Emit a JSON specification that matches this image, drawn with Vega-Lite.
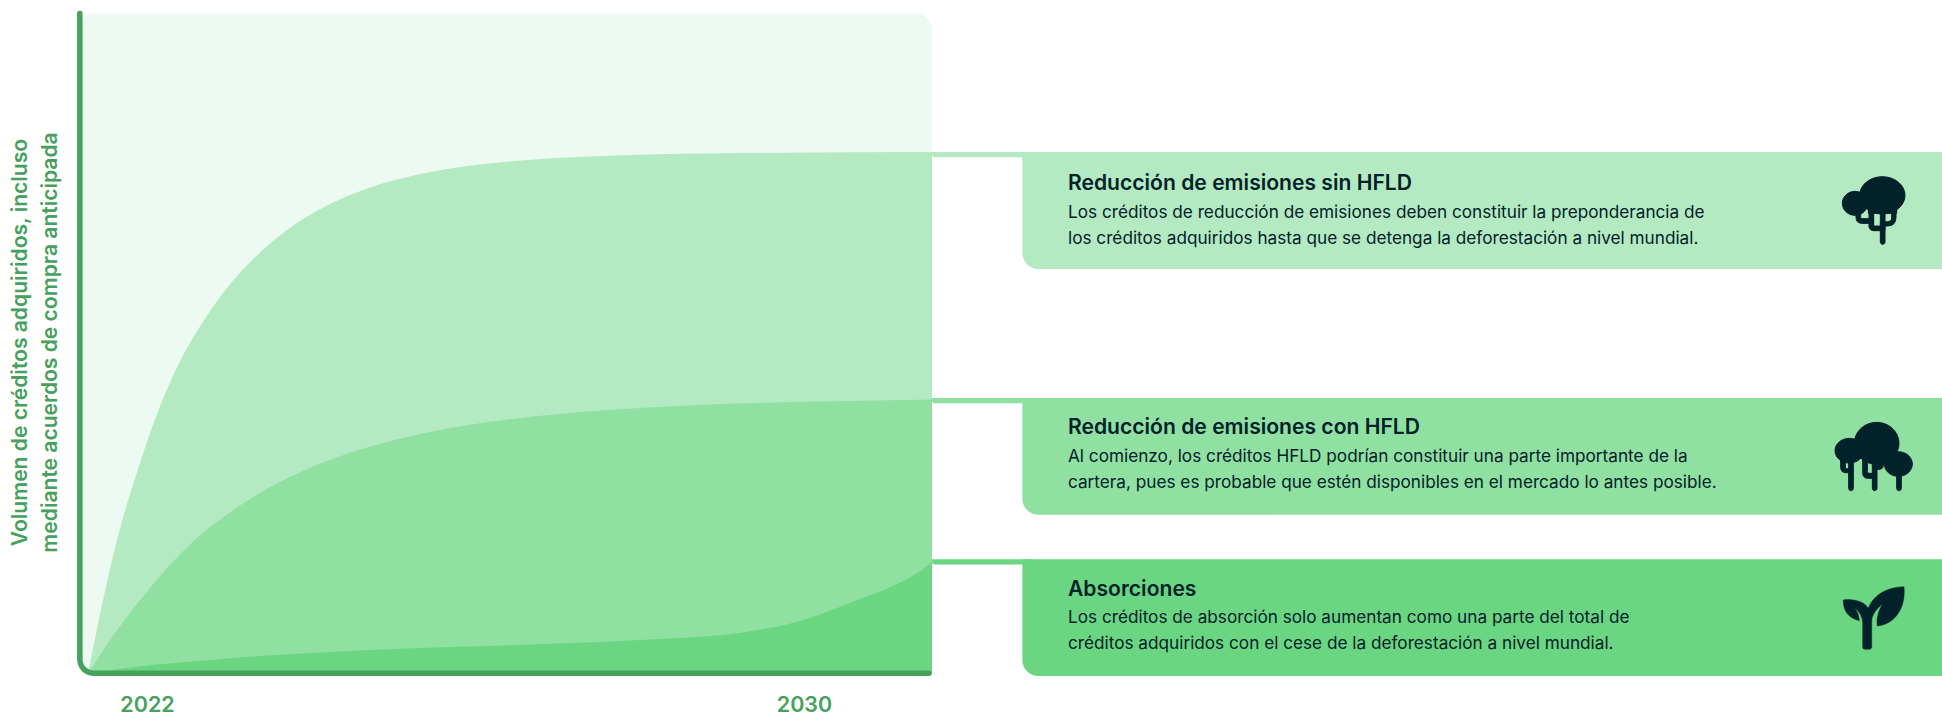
{
"$schema":"https://vega.github.io/schema/vega-lite/v6.json",
"width":1863,"height":660,
"autosize":{"type":"none"},
"padding":{"left":79,"top":13.5,"right":0,"bottom":40.5},
"background":"#ffffff",
"config":{"view":{"stroke":null},"font":"Inter"},
"data":{"values":[
{"kind":"fondo","year":2021.915,"level":100,"year2":2032.277,"level2":0},
{"kind":"banda","serie":"a","year":2032.277,"level":79.02,"year2":2033.5,"level2":78.21},
{"kind":"banda","serie":"b","year":2032.277,"level":41.74,"year2":2033.5,"level2":40.94},
{"kind":"banda","serie":"c","year":2032.277,"level":17.3,"year2":2033.5,"level2":16.5},
{"kind":"tarjeta","serie":"a","year":2033.377,"level":79.02,"year2":2044.576,"level2":61.29},
{"kind":"tarjeta","serie":"b","year":2033.377,"level":41.74,"year2":2044.576,"level2":24.06},
{"kind":"tarjeta","serie":"c","year":2033.377,"level":17.3,"year2":2044.576,"level2":-0.38},
{"kind":"a","year":2022,"level":0},{"kind":"a","year":2022.122,"level":7.5},{"kind":"a","year":2022.244,"level":14.6},{"kind":"a","year":2022.426,"level":23.6},{"kind":"a","year":2022.609,"level":31.0},{"kind":"a","year":2022.852,"level":39.7},{"kind":"a","year":2023.096,"level":46.7},{"kind":"a","year":2023.4,"level":53.3},{"kind":"a","year":2023.705,"level":58.6},{"kind":"a","year":2024.07,"level":63.5},{"kind":"a","year":2024.435,"level":67.3},{"kind":"a","year":2024.922,"level":70.97},{"kind":"a","year":2025.41,"level":73.51},{"kind":"a","year":2026.018,"level":75.59},{"kind":"a","year":2026.627,"level":76.88},{"kind":"a","year":2027.358,"level":77.81},{"kind":"a","year":2028.332,"level":78.44},{"kind":"a","year":2029.55,"level":78.79},{"kind":"a","year":2032.277,"level":79.02},
{"kind":"b","year":2022,"level":0},{"kind":"b","year":2022.304,"level":5.7},{"kind":"b","year":2022.731,"level":12.6},{"kind":"b","year":2023.218,"level":19.28},{"kind":"b","year":2023.827,"level":25.25},{"kind":"b","year":2024.435,"level":29.61},{"kind":"b","year":2025.166,"level":33.33},{"kind":"b","year":2026.018,"level":36.22},{"kind":"b","year":2026.871,"level":38.09},{"kind":"b","year":2027.845,"level":39.43},{"kind":"b","year":2028.819,"level":40.3},{"kind":"b","year":2030.037,"level":40.95},{"kind":"b","year":2031.255,"level":41.3},{"kind":"b","year":2032.277,"level":41.52},
{"kind":"c","year":2022,"level":0},{"kind":"c","year":2022.268,"level":0.5},{"kind":"c","year":2022.718,"level":1.2},{"kind":"c","year":2023.522,"level":2.1},{"kind":"c","year":2024.338,"level":2.85},{"kind":"c","year":2025.312,"level":3.5},{"kind":"c","year":2026.408,"level":4.0},{"kind":"c","year":2027.626,"level":4.5},{"kind":"c","year":2028.843,"level":5.15},{"kind":"c","year":2029.976,"level":6.2},{"kind":"c","year":2030.731,"level":8.2},{"kind":"c","year":2031.401,"level":11.3},{"kind":"c","year":2031.803,"level":13.3},{"kind":"c","year":2032.009,"level":14.6},{"kind":"c","year":2032.168,"level":15.8},{"kind":"c","year":2032.277,"level":17.0},
{"kind":"eje","i":0,"year":2021.9,"level":100},{"kind":"eje","i":1,"year":2021.9,"level":2.15},{"kind":"eje","i":2,"year":2021.906,"level":1.6},{"kind":"eje","i":3,"year":2021.923,"level":1.09},{"kind":"eje","i":4,"year":2021.95,"level":0.65},{"kind":"eje","i":5,"year":2021.985,"level":0.32},{"kind":"eje","i":6,"year":2022.027,"level":0.1},{"kind":"eje","i":7,"year":2022.071,"level":0.03},{"kind":"eje","i":8,"year":2032.241,"level":0.03},
{"kind":"titulo","year":2033.933,"level":74.12,"text":"Reducción de emisiones sin HFLD"},
{"kind":"texto","year":2033.933,"level":69.72,"text":"Los créditos de reducción de emisiones deben constituir la preponderancia de"},
{"kind":"texto","year":2033.933,"level":65.78,"text":"los créditos adquiridos hasta que se detenga la deforestación a nivel mundial."},
{"kind":"titulo","year":2033.933,"level":37.2,"text":"Reducción de emisiones con HFLD"},
{"kind":"texto","year":2033.933,"level":32.8,"text":"Al comienzo, los créditos HFLD podrían constituir una parte importante de la"},
{"kind":"texto","year":2033.933,"level":28.87,"text":"cartera, pues es probable que estén disponibles en el mercado lo antes posible."},
{"kind":"titulo","year":2033.933,"level":12.6,"text":"Absorciones"},
{"kind":"texto","year":2033.933,"level":8.4,"text":"Los créditos de absorción solo aumentan como una parte del total de"},
{"kind":"texto","year":2033.933,"level":4.45,"text":"créditos adquiridos con el cese de la deforestación a nivel mundial."},
{"kind":"icono1","year":2042.847,"level":77.8},
{"kind":"icono2","year":2042.847,"level":39.92},
{"kind":"icono3","year":2042.847,"level":14.17}
]},
"encoding":{
"x":{"field":"year","type":"quantitative","scale":{"domain":[2021.89,2044.576],"nice":false,"zero":false},
"axis":{"values":[2022,2030],"format":"d","title":null,"domain":false,"ticks":false,"grid":false,"labelOffset":59,"labelPadding":21,"labelFontSize":21.5,"labelFontWeight":600,"labelColor":"#45A15C","labelFont":"Inter","labelBound":false,"labelFlush":false,"labelOverlap":false}},
"y":{"field":"level","type":"quantitative","scale":{"domain":[0,100],"nice":false,"zero":false},
"axis":{"title":["Volumen de créditos adquiridos, incluso","mediante acuerdos de compra anticipada"],"domain":false,"ticks":false,"labels":false,"grid":false,"titleFont":"Inter","titleFontSize":21.05,"titleFontWeight":600,"titleColor":"#45A15C","titleLineHeight":30,"titleX":-59,"titleY":328.5,"titleAngle":-90,"titleAlign":"center","titleBaseline":"middle"}}
},
"layer":[
{"transform":[{"filter":"datum.kind==='fondo'"}],"mark":{"type":"rect","color":"#ECFAF1","cornerRadiusTopRight":16,"cornerRadiusTopLeft":12,"cornerRadiusBottomRight":4},"encoding":{"x2":{"field":"year2"},"y2":{"field":"level2"}}},
{"transform":[{"filter":"datum.kind==='a'"}],"mark":{"type":"area","color":"#B3EAC1","interpolate":"monotone","opacity":1},"encoding":{"y2":{"datum":0}}},
{"transform":[{"filter":"datum.kind==='b'"}],"mark":{"type":"area","color":"#90E0A2","interpolate":"monotone","opacity":1},"encoding":{"y2":{"datum":0}}},
{"transform":[{"filter":"datum.kind==='c'"}],"mark":{"type":"area","color":"#6BD682","interpolate":"monotone","opacity":1},"encoding":{"y2":{"datum":0}}},
{"transform":[{"filter":"(datum.kind==='banda'||datum.kind==='tarjeta')&&datum.serie==='a'"}],"mark":{"type":"rect","color":"#B3EAC1","cornerRadiusBottomLeft":16},"encoding":{"x2":{"field":"year2"},"y2":{"field":"level2"}}},
{"transform":[{"filter":"(datum.kind==='banda'||datum.kind==='tarjeta')&&datum.serie==='b'"}],"mark":{"type":"rect","color":"#90E0A2","cornerRadiusBottomLeft":16},"encoding":{"x2":{"field":"year2"},"y2":{"field":"level2"}}},
{"transform":[{"filter":"(datum.kind==='banda'||datum.kind==='tarjeta')&&datum.serie==='c'"}],"mark":{"type":"rect","color":"#6BD682","cornerRadiusBottomLeft":16},"encoding":{"x2":{"field":"year2"},"y2":{"field":"level2"}}},
{"transform":[{"filter":"datum.kind==='eje'"}],"mark":{"type":"line","color":"#45A15C","strokeWidth":5.5,"strokeCap":"round","strokeJoin":"round"},"encoding":{"order":{"field":"i","type":"quantitative"}}},
{"transform":[{"filter":"datum.kind==='titulo'"}],"mark":{"type":"text","align":"left","baseline":"middle","font":"Inter","fontSize":21.1,"fontWeight":600,"color":"#02222B"},"encoding":{"text":{"field":"text"}}},
{"transform":[{"filter":"datum.kind==='texto'"}],"mark":{"type":"text","align":"left","baseline":"middle","font":"Inter","fontSize":17.2,"fontWeight":400,"color":"#02222B"},"encoding":{"text":{"field":"text"}}},
{"transform":[{"filter":"datum.kind==='icono1'"}],"mark":{"type":"point","filled":true,"opacity":1,"fill":"#02222B","stroke":"#02222B","strokeWidth":1,"size":0.4444,"shape":"M179 106A68 56 0 1 1 315 106A68 56 0 1 1 179 106ZM127 130A38 36 0 1 1 203 130A38 36 0 1 1 127 130ZM205 100L290 100L290 160L205 160ZM241 190L255 190L255 246A7 7 0 0 1 241 246ZM207 150L221 150L221 200L207 200ZM215 198L255 198L255 212L222 212Q207 212 207 197ZM241 150L255 150L255 195L241 195ZM275 150L288 150L288 172Q288 198 262 198L245 198L245 185L262 185Q275 185 275 172ZM168 155L182 155L182 173Q182 176 186 176L220 176L220 190L186 190Q168 190 168 172Z"}},
{"transform":[{"filter":"datum.kind==='icono2'"}],"mark":{"type":"point","filled":true,"opacity":1,"fill":"#02222B","stroke":"#02222B","strokeWidth":1,"size":0.4444,"shape":"M163 100A67 63 0 1 1 297 100A67 63 0 1 1 163 100ZM105 122A43 37 0 1 1 191 122A43 37 0 1 1 105 122ZM253 162A42 37 0 1 1 337 162A42 37 0 1 1 253 162ZM190 100L270 100L270 155L190 155ZM146 150L160 150L160 235A7 7 0 0 1 146 235ZM217 150L231 150L231 235A7 7 0 0 1 217 235ZM290 190L304 190L304 235A7 7 0 0 1 290 235ZM122 150L136 150L136 172Q136 176 140 176L150 176L150 188L138 188Q122 188 122 172ZM188 150L202 150L202 185Q202 190 207 190L220 190L220 205L205 205Q188 205 188 188ZM236 150L250 150L250 165Q250 178 237 178L225 178L225 165L232 165Q236 165 236 160Z"}},
{"transform":[{"filter":"datum.kind==='icono3'"}],"mark":{"type":"point","filled":true,"opacity":1,"fill":"#02222B","stroke":"#02222B","strokeWidth":0.5,"size":0.4444,"shape":"M130 60C128 90 145 115 178 122C178 108 172 95 165 85C178 95 188 110 188 130L188 200Q188 208 196 208L207 208Q215 208 215 200L215 125C215 105 228 88 248 72C236 90 228 115 232 138C285 132 318 85 312 20C265 22 222 40 205 85C195 68 165 55 130 60Z"}}
]
}
